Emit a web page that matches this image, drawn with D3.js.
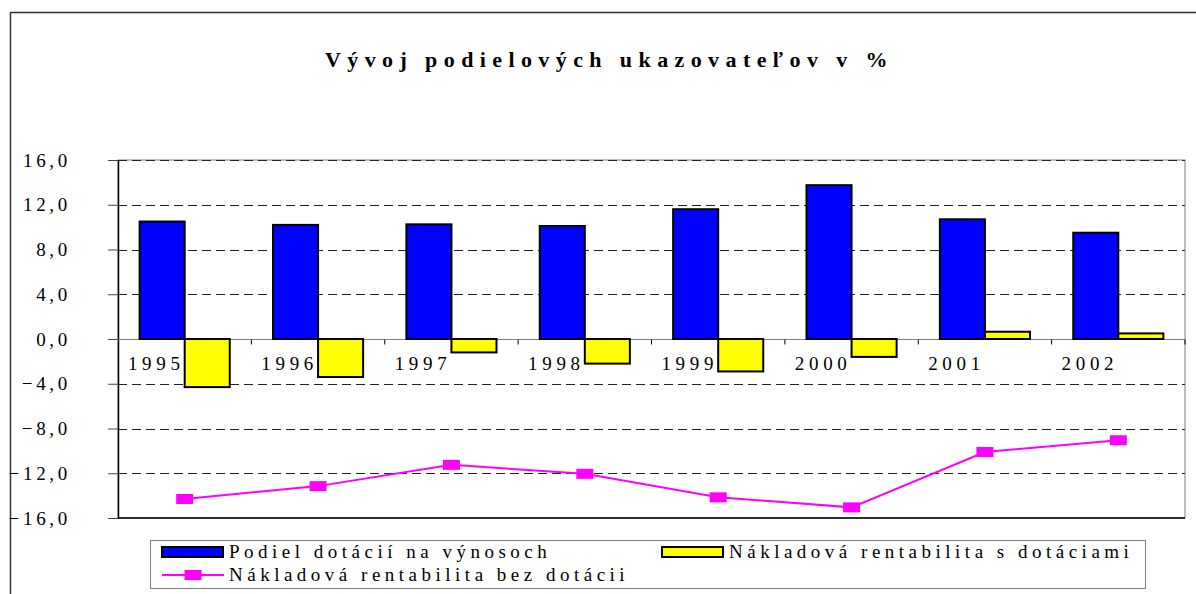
<!DOCTYPE html>
<html>
<head>
<meta charset="utf-8">
<script src="https://cdn.jsdelivr.net/npm/d3@7"></script>
<style>
  body { margin: 0; background: #fff; }
  text { font-family: "Liberation Serif", "Times New Roman", serif; fill: #000; }
</style>
</head>
<body>
<div id="chart"></div>
<script>
// Data
const years = ["1995", "1996", "1997", "1998", "1999", "2000", "2001", "2002"];
const podielDotacii = [10.5, 10.2, 10.25, 10.1, 11.6, 13.75, 10.7, 9.5];
const rentabilitaS = [-4.3, -3.4, -1.2, -2.2, -2.9, -1.6, 0.65, 0.5];
const rentabilitaBez = [-14.3, -13.15, -11.25, -12.05, -14.15, -15.05, -10.1, -9.05];
const yTicks = [16, 12, 8, 4, 0, -4, -8, -12, -16];
const seriesNames = ["Podiel dotácií na výnosoch", "Nákladová rentabilita s dotáciami", "Nákladová rentabilita bez dotácii"];
const title = "Vývoj podielových ukazovateľov v %";

const W = 1196, H = 594;
const plot = { left: 118, right: 1185, top: 160, bottom: 518 };

const svg = d3.select("#chart").append("svg")
    .attr("width", W)
    .attr("height", H);

// outer frame of the chart (runs off the picture at right and bottom)
svg.append("rect")
    .attr("x", 10.5).attr("y", 12.5)
    .attr("width", 1200).attr("height", 600)
    .attr("fill", "none")
    .attr("stroke", "#333")
    .attr("stroke-width", 1.5);

svg.append("text")
    .attr("x", 325)
    .attr("y", 67)
    .attr("font-size", 22)
    .attr("font-weight", "bold")
    .attr("letter-spacing", 6.4)
    .text(title);

// scales
const y = d3.scaleLinear().domain([-16, 16]).range([plot.bottom, plot.top]);
const x = d3.scaleBand().domain(years).range([plot.left, plot.right]);
const xs = d3.scaleBand().domain([0, 1]).range([0, x.bandwidth()]).paddingInner(0).paddingOuter(0.48);

// plot area border
svg.append("rect")
    .attr("x", plot.left).attr("y", plot.top)
    .attr("width", plot.right - plot.left).attr("height", plot.bottom - plot.top)
    .attr("fill", "none")
    .attr("stroke", "#808080")
    .attr("stroke-width", 1);

// dashed gridlines
svg.append("g")
    .selectAll("line")
    .data(yTicks.filter(d => d !== 0 && d !== -16))
    .join("line")
    .attr("x1", plot.left).attr("x2", plot.right)
    .attr("y1", d => Math.round(y(d)) + 0.5).attr("y2", d => Math.round(y(d)) + 0.5)
    .attr("stroke", "#222")
    .attr("stroke-width", 1)
    .attr("stroke-dasharray", "9,5");

// y axis
const yAxis = d3.axisLeft(y)
    .tickValues(yTicks)
    .tickSize(10)
    .tickSizeOuter(0)
    .tickFormat(d => d3.format(".1f")(d).replace(".", ","));

const gy = svg.append("g")
    .attr("transform", `translate(${plot.left},0)`)
    .call(yAxis);
gy.select(".domain").attr("stroke", "#000").attr("stroke-width", 1.5);
gy.selectAll(".tick line").attr("stroke", "#444");
gy.selectAll(".tick text")
    .attr("x", -47)
    .attr("font-size", 19)
    .attr("letter-spacing", 3.7)
    .attr("fill", "#000")
    .style("font-family", "Liberation Serif");

// bottom axis line
svg.append("line")
    .attr("x1", plot.left).attr("x2", plot.right)
    .attr("y1", plot.bottom).attr("y2", plot.bottom)
    .attr("stroke", "#000").attr("stroke-width", 1.5);

// zero line with category ticks
const y0 = Math.round(y(0)) + 0.5;
svg.append("line")
    .attr("x1", plot.left).attr("x2", plot.right)
    .attr("y1", y0).attr("y2", y0)
    .attr("stroke", "#808080").attr("stroke-width", 1);
svg.append("g")
    .selectAll("line")
    .data(years.slice(1).concat(["end"]))
    .join("line")
    .attr("x1", d => d === "end" ? plot.right : x(d))
    .attr("x2", d => d === "end" ? plot.right : x(d))
    .attr("y1", y0).attr("y2", y0 + 5)
    .attr("stroke", "#000").attr("stroke-width", 1);

// year labels
svg.append("g")
    .selectAll("text")
    .data(years)
    .join("text")
    .attr("x", d => x(d) + x.bandwidth() / 2)
    .attr("y", 370)
    .attr("text-anchor", "end")
    .attr("font-size", 19)
    .attr("letter-spacing", 4.7)
    .text(d => d);

// bars
const barColors = ["#0000FF", "#FFFF00"];
[podielDotacii, rentabilitaS].forEach((vals, si) => {
    svg.append("g")
        .selectAll("rect")
        .data(vals)
        .join("rect")
        .attr("x", (d, i) => x(years[i]) + xs(si))
        .attr("width", xs.bandwidth())
        .attr("y", d => y(Math.max(0, d)))
        .attr("height", d => Math.abs(y(d) - y(0)))
        .attr("fill", barColors[si])
        .attr("stroke", "#000")
        .attr("stroke-width", 2);
});

// line series
const line = d3.line()
    .x((d, i) => x(years[i]) + x.bandwidth() / 2)
    .y(d => y(d));
svg.append("path")
    .datum(rentabilitaBez)
    .attr("d", line)
    .attr("fill", "none")
    .attr("stroke", "#FF00FF")
    .attr("stroke-width", 2);
svg.append("g")
    .selectAll("rect")
    .data(rentabilitaBez)
    .join("rect")
    .attr("x", (d, i) => x(years[i]) + x.bandwidth() / 2 - 8.5)
    .attr("y", d => y(d) - 5)
    .attr("width", 17).attr("height", 10)
    .attr("fill", "#FF00FF");

// legend
const legend = svg.append("g");
legend.append("rect")
    .attr("x", 150.5).attr("y", 540.5)
    .attr("width", 995).attr("height", 48)
    .attr("fill", "none")
    .attr("stroke", "#808080");

const legendItems = [
    { name: seriesNames[0], kind: "bar", color: barColors[0], x: 162, y: 552 },
    { name: seriesNames[1], kind: "bar", color: barColors[1], x: 662, y: 552 },
    { name: seriesNames[2], kind: "line", color: "#FF00FF", x: 162, y: 575 }
];
legendItems.forEach(it => {
    if (it.kind === "bar") {
        legend.append("rect")
            .attr("x", it.x).attr("y", it.y - 5)
            .attr("width", 61).attr("height", 10)
            .attr("fill", it.color)
            .attr("stroke", "#000").attr("stroke-width", 2);
    } else {
        legend.append("line")
            .attr("x1", it.x).attr("x2", it.x + 62)
            .attr("y1", it.y).attr("y2", it.y)
            .attr("stroke", it.color).attr("stroke-width", 2);
        legend.append("rect")
            .attr("x", it.x + 31 - 8.5).attr("y", it.y - 5)
            .attr("width", 17).attr("height", 10)
            .attr("fill", it.color);
    }
    legend.append("text")
        .attr("x", it.x + 67)
        .attr("y", it.y + 6)
        .attr("font-size", 19)
        .attr("letter-spacing", 4.5)
        .text(it.name);
});
</script>
</body>
</html>
